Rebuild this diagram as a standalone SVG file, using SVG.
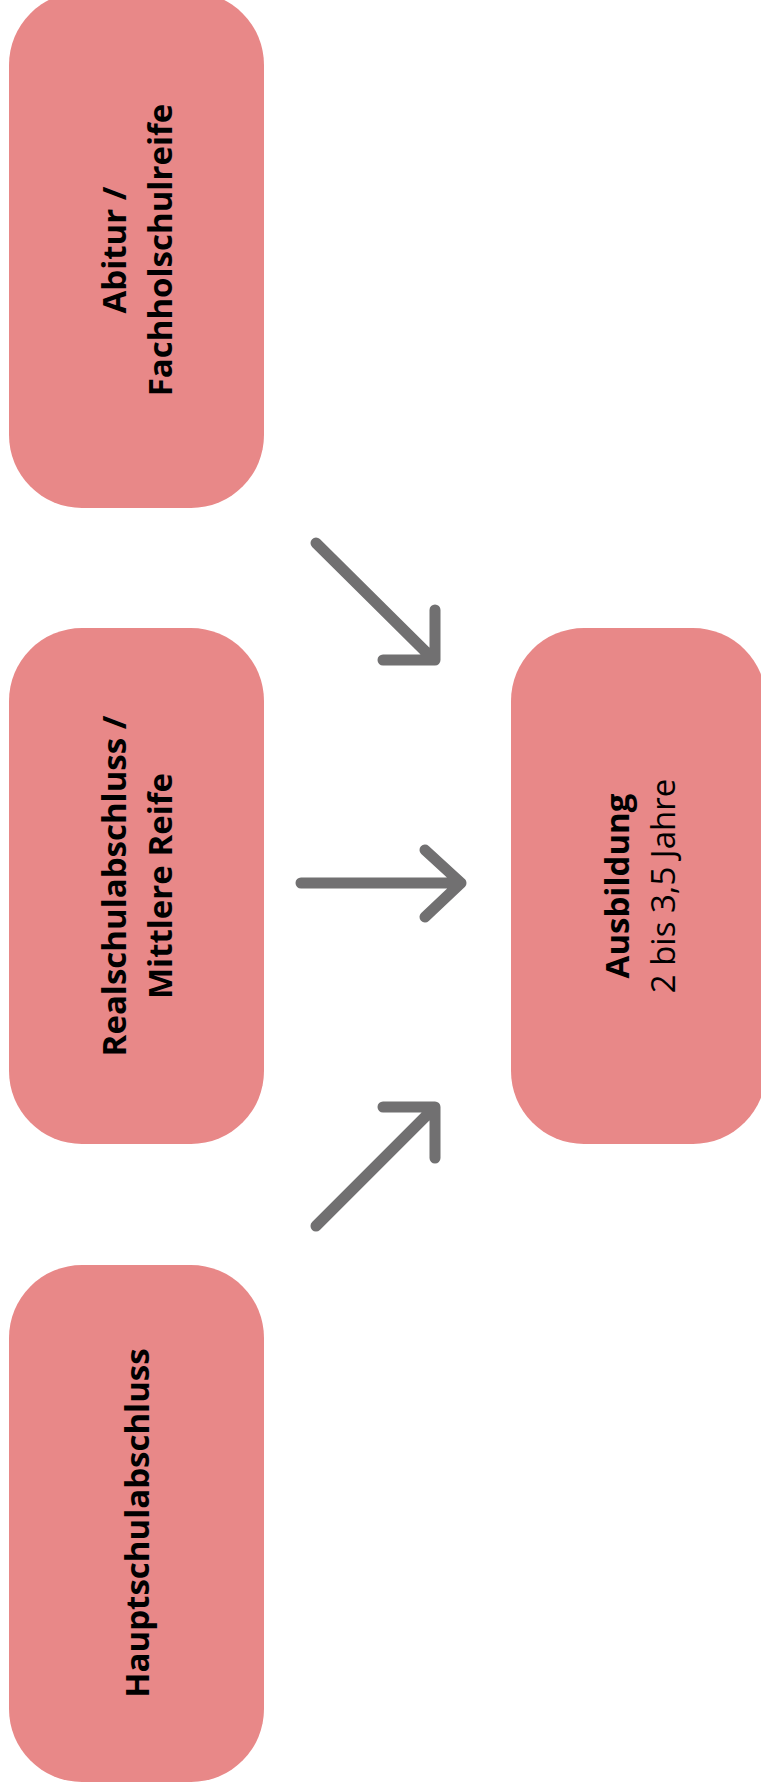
<svg xmlns="http://www.w3.org/2000/svg" width="761" height="1791" viewBox="0 0 761 1791">
  <style>
    .box { fill: #E88888; }
    .lbl { font-family: "Open Sans", "Noto Sans", "Liberation Sans", sans-serif; font-size: 33px; fill: #000; text-anchor: middle; }
    .b { font-weight: 700; }
    .arrow { fill: none; stroke: #717071; stroke-width: 11; stroke-linecap: round; stroke-linejoin: round; }
  </style>
  <rect x="0" y="0" width="761" height="1791" fill="#ffffff"/>

  <g id="abitur">
    <rect class="box" x="9" y="-8" width="255" height="516" rx="73" ry="73"/>
    <text class="lbl b" transform="translate(126,250) rotate(-90)">Abitur /</text>
    <text class="lbl b" transform="translate(172,250) rotate(-90)">Fachholschulreife</text>
  </g>

  <g id="realschule">
    <rect class="box" x="9" y="628" width="255" height="516" rx="73" ry="73"/>
    <text class="lbl b" transform="translate(126,886) rotate(-90)">Realschulabschluss /</text>
    <text class="lbl b" transform="translate(172,886) rotate(-90)">Mittlere Reife</text>
  </g>

  <g id="hauptschule">
    <rect class="box" x="9" y="1265" width="255" height="517" rx="73" ry="73"/>
    <text class="lbl b" transform="translate(149,1523) rotate(-90)">Hauptschulabschluss</text>
  </g>

  <g id="ausbildung">
    <rect class="box" x="511" y="628" width="255" height="516" rx="73" ry="73"/>
    <text class="lbl b" transform="translate(629,886) rotate(-90)">Ausbildung</text>
    <text class="lbl" transform="translate(675,886) rotate(-90)">2 bis 3,5 Jahre</text>
  </g>

  <g id="connectors">
    <!-- Abitur to Ausbildung -->
    <path class="arrow" d="M316,543 L434,660 M435,610 L435,660 L383,660"/>
    <!-- Realschule to Ausbildung -->
    <path class="arrow" d="M301,883 L461,883 M425,850 L461,883 L425,917"/>
    <!-- Hauptschule to Ausbildung -->
    <path class="arrow" d="M316,1226 L434,1108 M383,1107 L435,1107 L435,1158"/>
  </g>
</svg>
